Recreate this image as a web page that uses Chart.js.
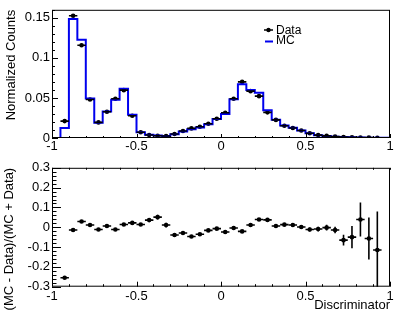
<!DOCTYPE html>
<html><head><meta charset="utf-8">
<script src="https://cdn.jsdelivr.net/npm/chart.js@4.4.1/dist/chart.umd.min.js"></script>
<style>
html,body{margin:0;padding:0;background:#fff;}
#wrap{position:relative;width:407px;height:315px;background:#fff;}
#c1{position:absolute;left:0;top:0;}
#c2{position:absolute;left:0;top:158px;}
</style></head><body>
<div id="wrap"><canvas id="c1" width="407" height="158"></canvas><canvas id="c2" width="407" height="157"></canvas></div>
<script>
// ---- data ----
const binEdges = [-1,-0.95,-0.9,-0.85,-0.8,-0.75,-0.7,-0.65,-0.6,-0.55,-0.5,-0.45,-0.4,-0.35,-0.3,-0.25,-0.2,-0.15,-0.1,-0.05,0,0.05,0.1,0.15,0.2,0.25,0.3,0.35,0.4,0.45,0.5,0.55,0.6,0.65,0.7,0.75,0.8,0.85,0.9,0.95,1];
const mcValues = [0,0.0125,0.1484,0.1226,0.0492,0.0191,0.0332,0.0478,0.0614,0.0290,0.0073,0.0040,0.0031,0.0026,0.0047,0.0082,0.0109,0.0131,0.0172,0.0237,0.0300,0.0485,0.0671,0.0598,0.0564,0.0345,0.0229,0.0156,0.0127,0.0093,0.0059,0.0035,0.0026,0.0017,0.0011,0.0009,0.00076,0.00044,0.00024,0.0002];
const dataValues = [null,0.0211,0.1526,0.1157,0.0481,0.0195,0.0328,0.0489,0.0597,0.0277,0.0071,0.0037,0.0028,0.0025,0.0050,0.0087,0.0120,0.0140,0.0178,0.0240,0.0315,0.0489,0.0700,0.0585,0.0522,0.0320,0.0226,0.0152,0.0124,0.0093,0.0060,0.0036,0.0026,0.0018,0.0013,0.0010,0.0007,0.0005,0.0003,null];
const dataErrors = [0,0.0004,0.0012,0.001,0.0007,0.0004,0.0006,0.0007,0.0008,0.0005,0.0003,0.0002,0.0002,0.0002,0.0003,0.0004,0.0004,0.0004,0.0005,0.0006,0.0007,0.0008,0.001,0.0009,0.0008,0.0007,0.0006,0.0005,0.0004,0.0004,0.0003,0.0003,0.0002,0.0002,0.0002,0.0002,0.0002,0.0001,0.0001,0];
const ratioValues = [null,-0.255,-0.014,0.029,0.011,-0.011,0.006,-0.011,0.014,0.022,0.014,0.036,0.051,0.011,-0.039,-0.029,-0.047,-0.035,-0.016,-0.007,-0.024,-0.004,-0.021,0.011,0.039,0.037,0.006,0.013,0.011,0.001,-0.011,-0.009,-0.002,-0.014,-0.065,-0.050,0.039,-0.057,-0.115,null];
const ratioErrors = [0,0.006,0.003,0.003,0.004,0.006,0.005,0.004,0.004,0.005,0.008,0.01,0.012,0.012,0.01,0.008,0.007,0.006,0.005,0.005,0.004,0.004,0.003,0.003,0.004,0.004,0.005,0.006,0.007,0.008,0.01,0.012,0.014,0.016,0.027,0.056,0.086,0.106,0.195,0];
const xTickValues = [-1,-0.5,0,0.5,1];
const xTickLabels = ['-1','-0.5','0','0.5','1'];
const topYTickValues = [0,0.05,0.1,0.15];
const topYTickLabels = ['0','0.05','0.1','0.15'];
const ratioTickValues = [-0.3,-0.2,-0.1,0,0.1,0.2,0.3];
const ratioTickLabels = ['-0.3','-0.2','-0.1','0','0.1','0.2','0.3'];
const legendLabels = ['Data','MC'];
const xTitle = 'Discriminator';
const topYTitle = 'Normalized Counts';
const ratioYTitle = '(MC - Data)/(MC + Data)';

// ---- derived ----
const binCenters = binEdges.slice(0,-1).map((e,i)=>(e+binEdges[i+1])/2);
const binHalf = binEdges.slice(0,-1).map((e,i)=>(binEdges[i+1]-e)/2);
const mcStep = binEdges.map((e,i)=>({x:e, y: mcValues[Math.min(i, mcValues.length-1)]}));
const dataPts = binCenters.map((c,i)=>({x:c, y:dataValues[i]}));
const ratioPts = binCenters.map((c,i)=>({x:c, y:ratioValues[i]}));

const FONT = "'Liberation Sans', Arial, Helvetica, sans-serif";
Chart.defaults.font.family = FONT;
Chart.defaults.font.size = 13;
Chart.defaults.color = '#000';

const framePlugin = {
  id:'frame',
  afterDraw(chart, args, o){
    const {ctx, chartArea:a, scales:{x, y}} = chart;
    ctx.save();
    ctx.strokeStyle='#000'; ctx.lineWidth=1;
    ctx.strokeRect(a.left+0.5, a.top+0.5, a.right-a.left-1, a.bottom-a.top-1);
    ctx.beginPath();
    const nx = Math.round((x.max-x.min)/0.1);
    for(let k=0;k<=nx;k++){
      const px = Math.round(x.getPixelForValue(x.min+k*0.1))+0.5;
      const L = (k%5===0)?o.xMaj:o.xMin;
      ctx.moveTo(px,a.bottom); ctx.lineTo(px,a.bottom-L);
      if(o.top){ctx.moveTo(px,a.top); ctx.lineTo(px,a.top+o.top);}
    }
    const ny = Math.round((y.max-y.min)/o.yStep);
    for(let k=0;k<=ny;k++){
      const py = Math.round(y.getPixelForValue(y.min+k*o.yStep))+0.5;
      const L = (k%o.yEvery===0)?o.yMaj:o.yMin;
      ctx.moveTo(a.left,py); ctx.lineTo(a.left+L,py);
    }
    ctx.stroke();
    ctx.restore();
  }
};
const errPlugin = {
  id:'errbars',
  afterDatasetsDraw(chart, args, o){
    const {ctx, chartArea:a, scales:{x, y}} = chart;
    const ds = chart.data.datasets[o.index];
    ctx.save();
    ctx.beginPath(); ctx.rect(a.left,a.top,a.right-a.left,a.bottom-a.top); ctx.clip();
    ctx.strokeStyle='#000'; ctx.lineWidth=1.6;
    ds.data.forEach((p,i)=>{
      if(p.y==null) return;
      const px=x.getPixelForValue(p.x), py=y.getPixelForValue(p.y);
      ctx.beginPath();
      ctx.moveTo(x.getPixelForValue(p.x-binHalf[i]),py); ctx.lineTo(x.getPixelForValue(p.x+binHalf[i]),py);
      ctx.moveTo(px,y.getPixelForValue(p.y-o.err[i])); ctx.lineTo(px,y.getPixelForValue(p.y+o.err[i]));
      ctx.stroke();
    });
    ctx.restore();
  }
};
const legendPlugin = {
  id:'leg',
  afterDraw(chart){
    const ctx=chart.ctx;
    ctx.save();
    ctx.font='12px '+FONT; ctx.textBaseline='middle'; ctx.fillStyle='#000';
    ctx.strokeStyle='#000'; ctx.lineWidth=1.5;
    ctx.beginPath(); ctx.moveTo(264,30); ctx.lineTo(273,30); ctx.stroke();
    ctx.beginPath(); ctx.arc(268.5,30,2.2,0,Math.PI*2); ctx.fill();
    ctx.fillText(legendLabels[0],276,30.5);
    ctx.strokeStyle='#0000ee'; ctx.lineWidth=2;
    ctx.beginPath(); ctx.moveTo(265,41.5); ctx.lineTo(273,41.5); ctx.stroke();
    ctx.fillText(legendLabels[1],276,41);
    ctx.restore();
  }
};

function xScale(h, pad, title){
  return {
    type:'linear', min:-1, max:1,
    afterBuildTicks(s){ s.ticks = xTickValues.map(v=>({value:v})); },
    ticks:{ padding:pad, autoSkip:false, maxRotation:0, callback:(v,i)=>xTickLabels[i] },
    grid:{display:false, drawTicks:false}, border:{display:false},
    title: title ? {display:true, text:title, align:'end', padding:{top:0,bottom:2.2}, font:{size:13}} : {display:false},
    afterFit(s){ s.height = h; }
  };
}
function yScale(min,max,vals,labels,title,tpad){
  return {
    type:'linear', min, max,
    afterBuildTicks(s){ s.ticks = vals.map(v=>({value:v})); },
    ticks:{ padding:2, autoSkip:false, callback:(v,i)=>labels[i] },
    grid:{display:false, drawTicks:false}, border:{display:false},
    title:{display:true, text:title, align:'end', padding:{top:tpad,bottom:0}, font:{size:13}},
    afterFit(s){ s.width = 52; }
  };
}

new Chart(document.getElementById('c1'), {
  type:'line',
  data:{ datasets:[
    {label:'MC', data:mcStep, stepped:'before', borderColor:'#0000ee', borderWidth:2, pointRadius:0, fill:false},
    {label:'Data', data:dataPts, showLine:false, pointRadius:2.3, pointBackgroundColor:'#000', pointBorderWidth:0}
  ]},
  options:{
    responsive:false, animation:false, devicePixelRatio:1,
    layout:{padding:{top:9, right:17, left:0, bottom:0}},
    plugins:{legend:{display:false}, tooltip:{enabled:false},
      frame:{xMaj:4, xMin:2, top:0, yStep:0.01, yEvery:5, yMaj:6, yMin:3},
      errbars:{index:1, err:dataErrors}},
    scales:{ x:xScale(20,1,null), y:yScale(0,0.16,topYTickValues,topYTickLabels,topYTitle,4) }
  },
  plugins:[framePlugin, errPlugin, legendPlugin]
});

new Chart(document.getElementById('c2'), {
  type:'line',
  data:{ datasets:[
    {label:'Ratio', data:ratioPts, showLine:false, pointRadius:2.3, pointBackgroundColor:'#000', pointBorderWidth:0}
  ]},
  options:{
    responsive:false, animation:false, devicePixelRatio:1,
    layout:{padding:{top:7.7, right:17, left:0, bottom:0}},
    plugins:{legend:{display:false}, tooltip:{enabled:false},
      frame:{xMaj:5, xMin:2.5, top:2, yStep:0.02, yEvery:5, yMaj:9, yMin:4.5},
      errbars:{index:0, err:ratioErrors}},
    scales:{ x:xScale(28.3,1.5,xTitle), y:yScale(-0.3,0.3,ratioTickValues,ratioTickLabels,ratioYTitle,1.5) }
  },
  plugins:[framePlugin, errPlugin]
});
</script>
</body></html>
